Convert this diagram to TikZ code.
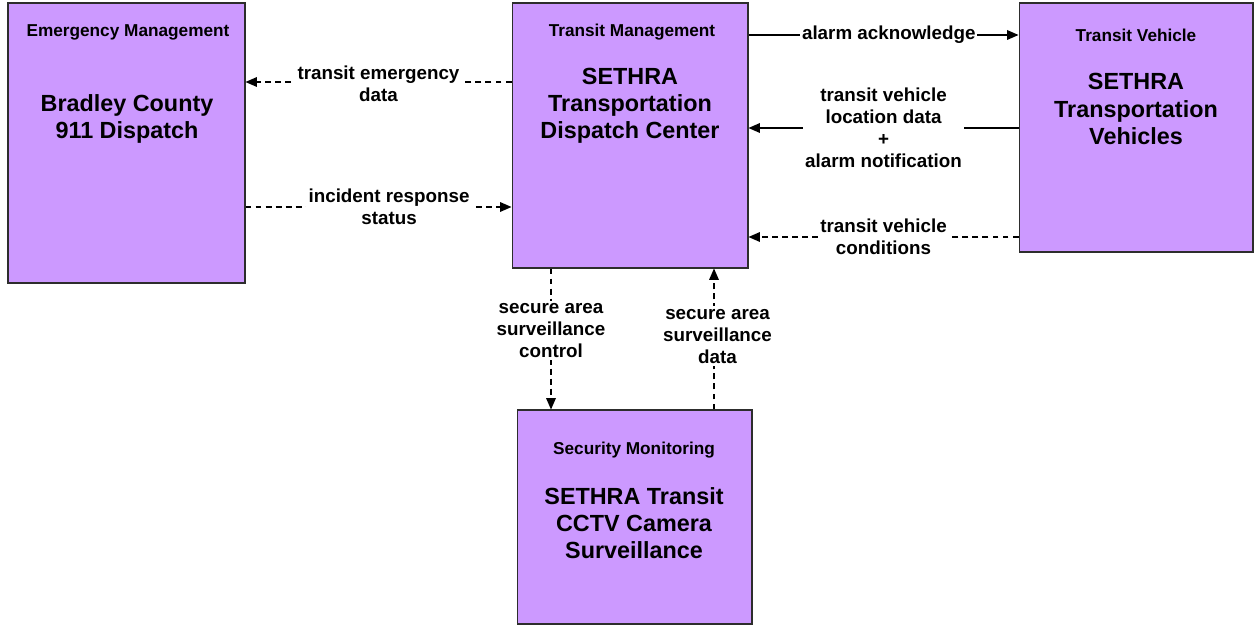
\documentclass[tikz,border=0pt]{standalone}
\usepackage{fontspec}
\setmainfont{Liberation Sans}
\usetikzlibrary{arrows.meta, positioning}
\definecolor{boxPurple}{HTML}{CC99FF}
\definecolor{edgeDark}{HTML}{2D2D2D}

\begin{document}
\begin{tikzpicture}[
    x=0.02cm, y=-0.02cm,
    box/.style={rectangle, draw=edgeDark, line width=0.6pt, fill=boxPurple,
                minimum width=#1},
    head/.style={font=\fontsize{9.8}{11.5}\selectfont\bfseries, align=center},
    title/.style={font=\fontsize{13.3}{15.4}\selectfont\bfseries, align=center},
    lbl/.style={font=\fontsize{10.7}{12.5}\selectfont\bfseries, align=center,
                fill=white, inner sep=1.5pt},
    flow/.style={line width=0.7pt, -{Triangle[length=6.5pt,width=5.5pt]}},
    dflow/.style={flow, dash pattern=on 3.4pt off 2.3pt},
  ]
    \useasboundingbox (0,0) rectangle (1254,625);

    % the four centres
    \node[box=4.74cm, minimum height=5.6cm] (em) at (126.5,143) {};
    \node[head] (emhead) at (128,32) {Emergency Management};
    \node[title] (emname) at (127,119) {Bradley County\\911 Dispatch};

    \node[box=4.72cm, minimum height=5.3cm] (tm) at (630,135.5) {};
    \node[head] (tmhead) at (632,32) {Transit Management};
    \node[title] (tmname) at (630,106) {SETHRA\\Transportation\\Dispatch Center};

    \node[box=4.68cm, minimum height=4.98cm] (tv) at (1136,127.5) {};
    \node[head] (tvhead) at (1136,35) {Transit Vehicle};
    \node[title] (tvname) at (1136,109) {SETHRA\\Transportation\\Vehicles};

    \node[box=4.7cm, minimum height=4.28cm] (sm) at (634.5,517) {};
    \node[head] (smhead) at (634,450) {Security Monitoring};
    \node[title] (smname) at (634,523.5) {SETHRA Transit\\CCTV Camera\\Surveillance};

    % flows
    \draw[dflow] (tm.west |- 0,82) -- (em.east |- 0,82)
      node[lbl, midway, yshift=-1pt] (emdata) {transit emergency\\data};
    \draw[dflow] (em.east |- 0,207) -- (tm.west |- 0,207)
      node[lbl, midway, xshift=6pt] (incstat) {incident response\\status};
    \draw[flow] (tm.east |- 0,35) -- (tv.west |- 0,35)
      node[lbl, midway, xshift=3pt, inner sep=1pt] (alarmack) {alarm acknowledge};
    \draw[flow] (tv.west |- 0,128) -- (tm.east |- 0,128)
      node[lbl, midway] (vehloc) {transit vehicle\\location data\\+\\alarm notification};
    \draw[dflow] (tv.west |- 0,237) -- (tm.east |- 0,237)
      node[lbl, midway] (vehcond) {transit vehicle\\conditions};
    \draw[dflow] (tm.south -| 551,0) -- (sm.north -| 551,0)
      node[lbl, pos=0.44] (survctl) {secure area\\surveillance\\control};
    \draw[dflow] (sm.north -| 714,0) -- (tm.south -| 714,0)
      node[lbl, pos=0.52, xshift=2pt] (survdata) {secure area\\surveillance\\data};
  \end{tikzpicture}
\end{document}
